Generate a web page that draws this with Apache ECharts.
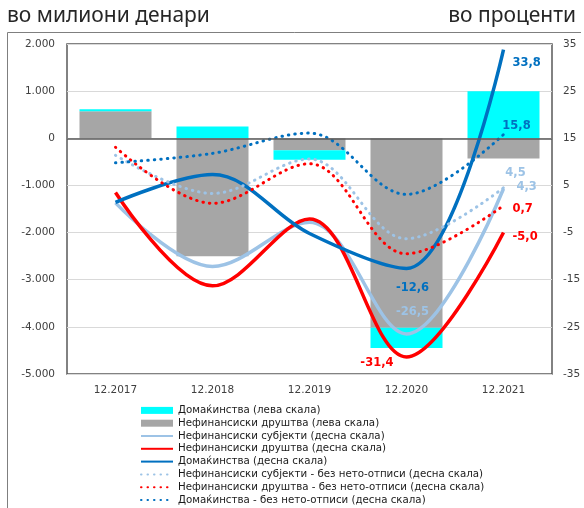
<!DOCTYPE html>
<html>
<head>
<meta charset="utf-8">
<script src="https://cdn.jsdelivr.net/npm/echarts@6/dist/echarts.min.js"></script>
<style>
  html, body { margin: 0; padding: 0; background: #fff; }
  #chart { width: 584px; height: 508px; }
</style>
</head>
<body>
<div id="chart"></div>
<script>
// data
const categories = ['12.2017', '12.2018', '12.2019', '12.2020', '12.2021'];
// left scale (million denars)
const hhBars = [40, 250, -200, -430, 1000];
const nfcBars = [575, -2500, -255, -4020, -430];
// right scale (percent)
const nfsLine = [1.3, -12.2, -2.8, -26.5, 4.3];
const nfcLine = [3.5, -16.3, -2.1, -31.4, -5.0];
const hhLine = [1.4, 7.3, -5.2, -12.6, 33.8];
const nfsNoWo = [11.4, 3.3, 10.6, -6.3, 4.5];
const nfcNoWo = [13.1, 1.2, 9.6, -9.5, 0.7];
const hhNoWo = [9.8, 11.8, 16.1, 3.1, 15.8];
const rightTicks = [-35, -25, -15, -5, 5, 15, 25, 35];

const names = [
  'Домаќинства (лева скала)',
  'Нефинансиски друштва (лева скала)',
  'Нефинансиски субјекти (десна скала)',
  'Нефинансиски друштва (десна скала)',
  'Домаќинства (десна скала)',
  'Нефинансиски субјекти - без нето-отписи (десна скала)',
  'Нефинансиски друштва - без нето-отписи (десна скала)',
  'Домаќинства - без нето-отписи (десна скала)'
];

const CYAN = '#00FFFF', GREY = '#A6A6A6', LIGHT = '#9DC3E6', RED = '#FF0000', BLUE = '#0070C0';
const FONT = 'DejaVu Sans';
const SMOOTH = 0.35;

const fmtPct = v => v.toFixed(1).replace('.', ',');

// attach a data label to selected points only
function withLabels(values, color, marks) {
  return values.map((v, i) => marks[i] ? {
    value: v,
    label: Object.assign({
      show: true, color: color, fontWeight: 'bold', fontSize: 11.5, fontFamily: FONT,
      formatter: p => fmtPct(p.value)
    }, marks[i])
  } : v);
}

function solid(name, color, data) {
  return {
    name, type: 'line', yAxisIndex: 1, smooth: SMOOTH, symbol: 'circle', symbolSize: 0,
    lineStyle: { color, width: 3.5 }, itemStyle: { color }, data
  };
}
function dotted(name, color, data) {
  return {
    name, type: 'line', yAxisIndex: 1, smooth: SMOOTH, symbol: 'circle', symbolSize: 0,
    lineStyle: { color, width: 3, type: [0.5, 6], cap: 'round' }, itemStyle: { color }, data
  };
}

const lineLegend = n => ({ name: n, itemStyle: { opacity: 0 } });

const chart = echarts.init(document.getElementById('chart'));
chart.setOption({
  animation: false,
  textStyle: { fontFamily: FONT },
  graphic: [
    { type: 'text', left: 7, top: 6, style: { text: 'во милиони денари', font: '21px "Noto Sans"', fill: '#262626' } },
    { type: 'text', right: 8, top: 6, style: { text: 'во проценти', font: '21px "Noto Sans"', fill: '#262626' } },
    { type: 'polyline', shape: { points: [[7.5, 508], [7.5, 32.5], [581, 32.5]] }, style: { stroke: '#7F7F7F', lineWidth: 1, fill: null } }
  ],
  grid: {
    left: 67, right: 32, top: 44, bottom: 134,
    show: true, borderColor: '#595959', borderWidth: 1.5
  },
  legend: {
    orient: 'vertical', left: 140, top: 404, padding: 0,
    itemWidth: 32, itemHeight: 7, itemGap: 0,
    textStyle: { fontSize: 10.25, lineHeight: 12.8, color: '#1A1A1A', fontFamily: FONT },
    data: [
      { name: names[0], icon: 'rect' },
      { name: names[1], icon: 'rect' },
      lineLegend(names[2]), lineLegend(names[3]), lineLegend(names[4]),
      lineLegend(names[5]), lineLegend(names[6]), lineLegend(names[7])
    ]
  },
  xAxis: {
    type: 'category', data: categories,
    axisLine: { show: false }, axisTick: { show: false },
    axisLabel: { fontSize: 10.5, color: '#404040', margin: 11 }
  },
  yAxis: [
    {
      type: 'value', min: -5000, max: 2000, interval: 1000,
      axisLine: { show: false }, axisTick: { show: false },
      axisLabel: {
        fontSize: 10.5, color: '#404040', margin: 12,
        formatter: v => (v < 0 ? '-' : '') + String(Math.abs(v)).replace(/\B(?=(\d{3})+(?!\d))/g, '.')
      },
      splitLine: { lineStyle: { color: '#D9D9D9', width: 1 } }
    },
    {
      type: 'value', min: -35, max: 35,
      axisLine: { show: false }, axisTick: { show: false },
      axisLabel: { fontSize: 10.5, color: '#404040', margin: 11, customValues: rightTicks },
      splitLine: { show: false }
    }
  ],
  series: [
    {
      name: names[1], type: 'bar', stack: 'bars', barWidth: 72,
      itemStyle: { color: GREY }, data: nfcBars,
      markLine: {
        silent: true, symbol: 'none', label: { show: false },
        lineStyle: { color: '#595959', width: 1.5, type: 'solid' },
        data: [{ yAxis: 0 }]
      }
    },
    { name: names[0], type: 'bar', stack: 'bars', barWidth: 72, itemStyle: { color: CYAN }, data: hhBars },
    solid(names[2], LIGHT, withLabels(nfsLine, LIGHT, {
      3: { position: 'top', offset: [6, -11] },
      4: { position: 'right', offset: [8, -2] }
    })),
    solid(names[3], RED, withLabels(nfcLine, RED, {
      3: { position: 'left', offset: [-8, 6] },
      4: { position: 'right', offset: [4, 4] }
    })),
    solid(names[4], BLUE, withLabels(hhLine, BLUE, {
      3: { position: 'bottom', offset: [6, 9] },
      4: { position: 'right', offset: [4, 13] }
    })),
    dotted(names[5], LIGHT, withLabels(nfsNoWo, LIGHT, {
      4: { position: 'top', offset: [12, -4] }
    })),
    dotted(names[6], RED, withLabels(nfcNoWo, RED, {
      4: { position: 'right', offset: [4, 3] }
    })),
    dotted(names[7], BLUE, withLabels(hhNoWo, BLUE, {
      4: { position: 'top', offset: [13, 3] }
    }))
  ]
});
</script>
</body>
</html>
